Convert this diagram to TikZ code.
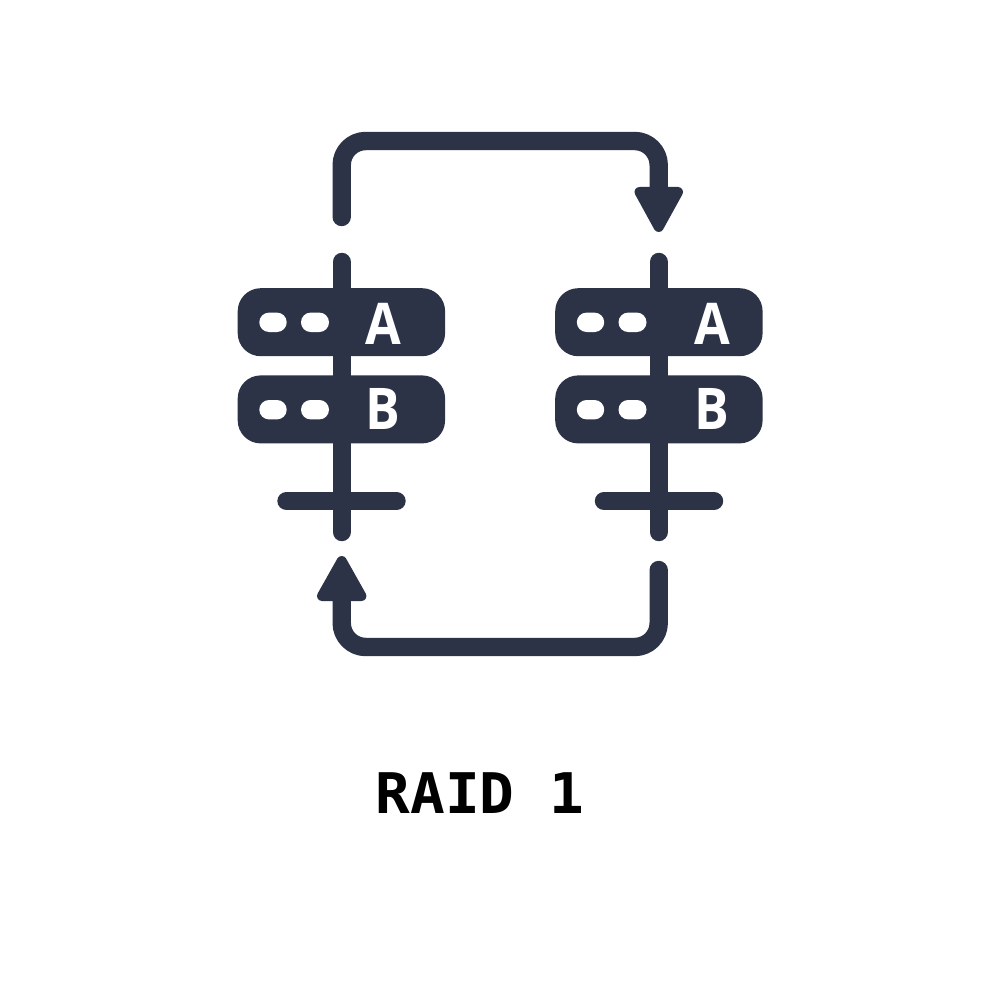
\documentclass[tikz,border=0pt]{standalone}
\usepackage{fontspec}
\usetikzlibrary{shapes.misc}
\newfontfamily\labelfont{DejaVu Sans Mono}[BoldFont={DejaVu Sans Mono Bold}]
\newfontfamily\letterfont{Open Sans}[BoldFont={Open Sans Bold}]
\definecolor{navy}{HTML}{2D3347}
\tikzset{
  wire/.style={draw=navy,line width=18.4pt,line cap=round,line join=round},
  diskbox/.style={fill=navy,rounded corners=23pt,minimum width=207.4pt,minimum height=68pt,inner sep=0pt,outer sep=0pt},
  led/.style={fill=white,rounded rectangle,minimum height=19.4pt,inner sep=0pt,outer sep=0pt},
  ledA/.style={led,minimum width=27.4pt},
  ledB/.style={led,minimum width=28pt},
  disklabel/.style={text=white,anchor=base,inner sep=0pt,xscale=0.9,font=\letterfont\bfseries\fontsize{57.5}{57.5}\selectfont},
  head/.style={fill=navy,draw=navy,line width=10pt,line join=round},
  title/.style={text=black,anchor=base,inner sep=0pt,xscale=1.03,font=\labelfont\bfseries\fontsize{56}{56}\selectfont}
}
\begin{document}
\begin{tikzpicture}[x=1pt,y=-1pt]
\useasboundingbox (0,0) rectangle (1000,1000);
\fill[white] (0,0) rectangle (1000,1000);
\coordinate (ltop) at (341.7,262);
\coordinate (lbot) at (341.7,532);
\coordinate (rtop) at (658.7,262);
\coordinate (rbot) at (658.7,532);
\draw[wire] (ltop) -- (lbot);
\draw[wire] (rtop) -- (rbot);
\node[diskbox] (la) at (341.4,322.2) {};
\node[diskbox] (lb) at (341.4,409.4) {};
\node[diskbox] (ra) at (658.9,322.2) {};
\node[diskbox] (rb) at (658.9,409.4) {};
\node[ledA] (la1) at (273,322.3) {};
\node[ledB] (la2) at (315,322.3) {};
\node[ledA] (lb1) at (273,409.7) {};
\node[ledB] (lb2) at (315,409.7) {};
\node[ledA] (ra1) at (590.5,322.3) {};
\node[ledB] (ra2) at (632.5,322.3) {};
\node[ledA] (rb1) at (590.5,409.7) {};
\node[ledB] (rb2) at (632.5,409.7) {};
\node[disklabel] (lat) at (383.3,344) {A};
\node[disklabel] (lbt) at (383.3,429) {B};
\node[disklabel] (rat) at (712,344) {A};
\node[disklabel] (rbt) at (712,429) {B};
\coordinate (lb-l) at (286.5,501);
\coordinate (lb-r) at (396.5,501);
\coordinate (rb-l) at (604,501);
\coordinate (rb-r) at (714,501);
\draw[wire] (lb-l) -- (lb-r);
\draw[wire] (rb-l) -- (rb-r);
\coordinate (t1) at (341.7,217);
\coordinate (t2) at (658.7,195);
\coordinate (b1) at (658.7,570);
\coordinate (b2) at (341.7,595);
\draw[wire,rounded corners=24pt] (t1) -- (341.7,141) -- (658.7,141) -- (t2);
\draw[wire,rounded corners=24pt] (b1) -- (658.7,647) -- (341.7,647) -- (b2);
\draw[head] (639.5,192) -- (678,192) -- (658.7,227) -- cycle;
\draw[head] (322,596) -- (361.4,596) -- (341.7,561) -- cycle;
\node[title] (cap) at (480,813) {RAID 1};
\end{tikzpicture}
\end{document}
